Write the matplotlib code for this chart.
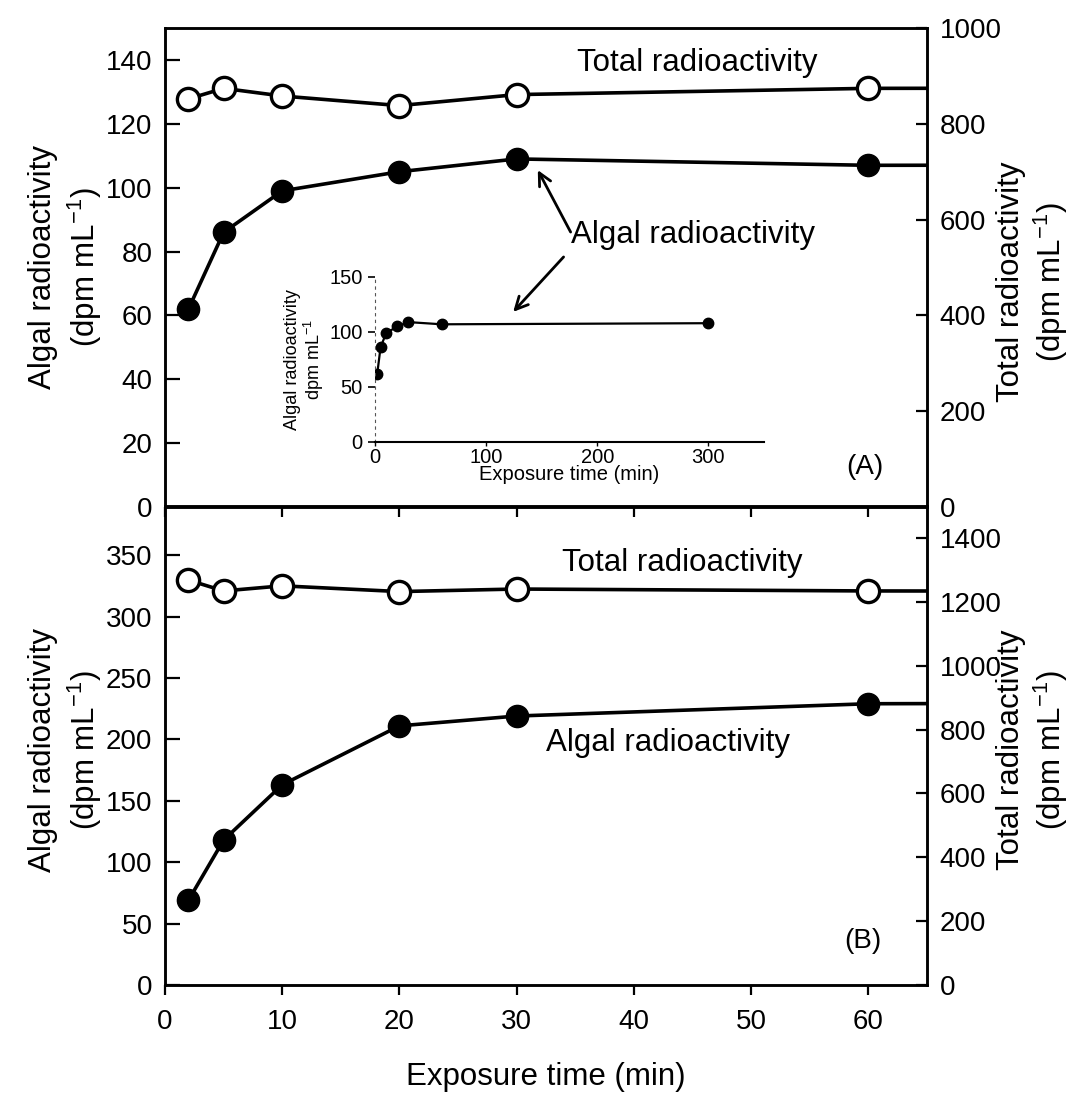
import numpy as np
import matplotlib
matplotlib.use("Agg")
import matplotlib.pyplot as plt

plt.rcParams['font.family'] = ['Liberation Sans', 'DejaVu Sans']
plt.rcParams['mathtext.default'] = 'regular'

# Exposure times (min); the 300 min point is only visible in the inset
time = [2, 5, 10, 20, 30, 60, 300]

# Panel A
algal_a = [62, 86, 99, 105, 109, 107, 108]
total_a = [852, 874, 858, 838, 861, 874, 880]

# Panel B
algal_b = [69, 118, 163, 211, 219, 229, 234]
total_b = [1268, 1234, 1250, 1232, 1240, 1234, 1226]

fig = plt.figure(figsize=(10.72, 10.96), dpi=100)

left, width = 165 / 1072, 762 / 1072
ax_a = fig.add_axes([left, 1 - 507 / 1096, width, 479 / 1096])
ax_b = fig.add_axes([left, 1 - 985 / 1096, width, 479 / 1096])
ax_b.patch.set_alpha(0)   # let panel A's bottom ticks show

line_kw = dict(color='black', lw=2.6, markersize=16)
FS = 22.5
TICK_FS = 20


def style_axes(ax, ax2, show_xlabels):
    for a in (ax, ax2):
        for s in a.spines.values():
            s.set_linewidth(1.8)
    ax.set_xlim(0, 65)
    ax.set_xticks(np.arange(0, 70, 10))
    ax.tick_params(axis='x', direction='out', length=7, width=1.6,
                   labelsize=TICK_FS, pad=10, labelbottom=show_xlabels)
    ax.tick_params(axis='y', direction='in', length=11, width=1.6,
                   labelsize=TICK_FS, pad=9)
    ax2.tick_params(axis='y', direction='in', length=8, width=1.6,
                    labelsize=TICK_FS, pad=9)


# ---- Panel A ----
ax_a2 = ax_a.twinx()
ax_a.plot(time, algal_a, marker='o', mfc='black', mec='black', **line_kw)
ax_a2.plot(time, total_a, marker='o', mfc='white', mec='black', mew=2.4, **line_kw)
ax_a.set_ylim(0, 150)
ax_a.set_yticks(np.arange(0, 141, 20))
ax_a2.set_ylim(0, 1000)
ax_a2.set_yticks(np.arange(0, 1001, 200))
style_axes(ax_a, ax_a2, False)

ax_a.text(45.4, 139, 'Total radioactivity', fontsize=FS, ha='center', va='center')
ax_a.text(45.0, 85.2, 'Algal radioactivity', fontsize=FS, ha='center', va='center')
ax_a.text(59.7, 12.5, '(A)', fontsize=TICK_FS, ha='center', va='center')
arrow = dict(arrowstyle='->,head_length=0.9,head_width=0.45', lw=2.0, color='black',
             shrinkA=0, shrinkB=0)
ax_a.annotate('', xy=(31.8, 105.5), xytext=(34.6, 86.1), arrowprops=arrow)
ax_a.annotate('', xy=(29.7, 61.1), xytext=(34.0, 78.3), arrowprops=arrow)

# ---- Panel B ----
ax_b2 = ax_b.twinx()
ax_b.plot(time, algal_b, marker='o', mfc='black', mec='black', **line_kw)
ax_b2.plot(time, total_b, marker='o', mfc='white', mec='black', mew=2.4, **line_kw)
ax_b.set_ylim(0, 390)
ax_b.set_yticks(np.arange(0, 351, 50))
ax_b2.set_ylim(0, 1500)
ax_b2.set_yticks(np.arange(0, 1401, 200))
style_axes(ax_b, ax_b2, True)
ax_b.set_xlabel('Exposure time (min)', fontsize=FS, labelpad=20)

ax_b.text(44.1, 343.7, 'Total radioactivity', fontsize=FS, ha='center', va='center')
ax_b.text(42.9, 197.4, 'Algal radioactivity', fontsize=FS, ha='center', va='center')
ax_b.text(59.5, 35.75, '(B)', fontsize=TICK_FS, ha='center', va='center')

# y labels
for yc in (1 - 267 / 1096, 1 - 750 / 1096):
    fig.text(66 / 1072, yc, 'Algal radioactivity\n(dpm mL$^{-1}$)', rotation=90,
             fontsize=FS, ha='center', va='center', multialignment='center',
             linespacing=1.25)
for yc in (1 - 282 / 1096, 1 - 750 / 1096):
    fig.text(1033 / 1072, yc, 'Total radioactivity\n(dpm mL$^{-1}$)', rotation=90,
             fontsize=FS, ha='center', va='center', multialignment='center',
             linespacing=1.2)

# ---- Inset ----
ax_in = fig.add_axes([375 / 1072, 1 - 442 / 1096, 389 / 1072, 165 / 1096])
ax_in.patch.set_alpha(0)
ax_in.plot(time, algal_a, marker='o', color='black', lw=1.6, markersize=7.5)
ax_in.set_xlim(0, 350)
ax_in.set_ylim(0, 150)
ax_in.set_xticks([0, 100, 200, 300])
ax_in.set_yticks([0, 50, 100, 150])
ax_in.spines['top'].set_visible(False)
ax_in.spines['right'].set_visible(False)
ax_in.spines['left'].set_linestyle((0, (2, 4)))
ax_in.spines['left'].set_linewidth(0.8)
ax_in.spines['left'].set_color('#555555')
ax_in.spines['bottom'].set_linewidth(1.5)
ax_in.tick_params(axis='x', length=3, width=1, labelsize=14.5, pad=1)
ax_in.tick_params(axis='y', length=5, width=1.2, labelsize=14.5, pad=4)
ax_in.set_xlabel('Exposure time (min)', fontsize=14.5, labelpad=-1)
ax_in.set_ylabel('Algal radioactivity\ndpm mL$^{-1}$', fontsize=13, labelpad=2,
                 linespacing=1.05)

fig.savefig('out.png', dpi=100)
